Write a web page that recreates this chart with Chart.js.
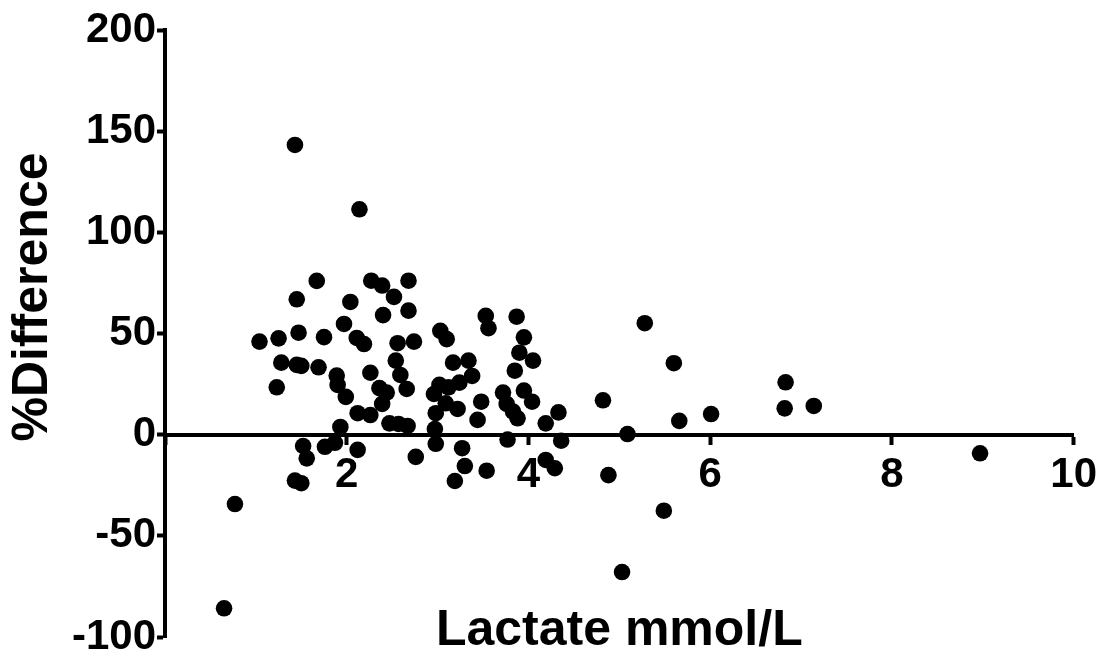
<!DOCTYPE html>
<html>
<head>
<meta charset="utf-8">
<title>Lactate % difference</title>
<script src="https://cdn.jsdelivr.net/npm/chart.js@4.4.1/dist/chart.umd.min.js"></script>
<style>
    html, body { margin: 0; padding: 0; background: #fff; }
</style>
</head>
<body>
<canvas id="scatterChart" width="1105" height="664"></canvas>
<script>
// lactate (mmol/L) vs % difference
const lactate = [
    0.65, 0.77, 1.04, 1.23, 1.25, 1.28, 1.43, 1.43, 1.45, 1.45,
    1.47, 1.50, 1.50, 1.52, 1.56, 1.67, 1.69, 1.75, 1.76, 1.87,
    1.89, 1.90, 1.93, 1.97, 1.99, 2.04, 2.11, 2.12, 2.12, 2.14,
    2.19, 2.26, 2.26, 2.27, 2.36, 2.39, 2.40, 2.44, 2.39, 2.47,
    2.52, 2.54, 2.56, 2.57, 2.59, 2.66, 2.67, 2.68, 2.68, 2.74,
    2.76, 2.96, 2.98, 2.97, 2.98, 3.02, 3.03, 3.10, 3.09, 3.12,
    3.17, 3.19, 3.22, 3.24, 3.27, 3.30, 3.34, 3.38, 3.44, 3.48,
    3.53, 3.54, 3.56, 3.72, 3.76, 3.77, 3.83, 3.85, 3.87, 3.88,
    3.90, 3.95, 3.95, 4.04, 4.05, 4.19, 4.19, 4.29, 4.33, 4.36,
    4.82, 4.88, 5.03, 5.09, 5.28, 5.49, 5.60, 5.66, 6.01, 6.82,
    6.83, 7.14, 8.97
];
const pctDiff = [
    -85.8, -34.3, 46.0, 23.4, 47.6, 35.6, -22.7, 143.2, 66.9, 34.5,
    50.4, 34.0, -24.0, -5.6, -11.7, 76.0, 33.3, 48.2, -6.0, -4.0,
    29.2, 24.6, 3.8, 54.7, 18.7, 65.6, 47.8, -7.5, 10.6, 111.4,
    44.8, 30.6, 9.7, 76.1, 23.0, 73.7, 59.1, 20.8, 15.2, 5.6,
    68.1, 36.6, 45.2, 5.3, 29.5, 22.6, 4.3, 76.1, 61.3, 46.0,
    -11.0, 20.1, 10.6, 2.8, -4.5, 24.6, 51.3, 47.2, 15.5, 23.4,
    35.6, -22.9, 12.7, 25.7, -6.7, -15.5, 36.6, 29.0, 7.3, 16.3,
    58.7, -17.8, 52.6, 20.8, 15.2, -2.4, 11.4, 31.6, 58.3, 8.1,
    40.5, 48.1, 21.8, 16.3, 36.6, 5.6, -12.5, -16.6, 11.0, -3.0,
    17.0, -20.0, -67.9, 0.3, 55.1, -37.6, 35.3, 6.8, 10.2, 13.0,
    25.9, 14.2, -9.2
];
const xTitle = 'Lactate mmol/L';
const yTitle = '%Difference';

const FONT = '"Liberation Sans", Arial, sans-serif';

// axis titles are drawn by hand, the originals sit off-centre
const axisTitles = {
    id: 'axisTitles',
    afterDraw(chart) {
        const ctx = chart.ctx;
        const area = chart.chartArea;
        ctx.save();
        ctx.fillStyle = '#000';
        ctx.font = 'bold 50px ' + FONT;
        ctx.textAlign = 'center';
        ctx.textBaseline = 'middle';
        ctx.fillText(xTitle, (area.left + area.right) / 2, 631);
        ctx.translate(33, 297);
        ctx.rotate(-Math.PI / 2);
        ctx.fillText(yTitle, 0, 0);
        ctx.restore();
    }
};

const ctx = document.getElementById('scatterChart').getContext('2d');
const chart = new Chart(ctx, {
    type: 'scatter',
    data: {
        datasets: [{
            label: yTitle,
            data: lactate.map((x, i) => ({ x: x, y: pctDiff[i] })),
            pointRadius: 8.3,
            pointHoverRadius: 8.3,
            pointBackgroundColor: '#000',
            pointBorderWidth: 0
        }]
    },
    options: {
        responsive: false,
        animation: false,
        layout: {
            padding: { left: 0, right: 30, top: 30, bottom: 27 }
        },
        plugins: {
            legend: { display: false },
            tooltip: { enabled: false }
        },
        scales: {
            x: {
                type: 'linear',
                position: { y: 0 },
                min: 0,
                max: 10,
                border: { display: true, color: '#000', width: 4 },
                grid: {
                    display: true,
                    drawOnChartArea: false,
                    drawTicks: true,
                    tickLength: 8,
                    tickWidth: 4,
                    color: '#000'
                },
                ticks: {
                    stepSize: 2,
                    color: '#000',
                    padding: 8,
                    maxRotation: 0,
                    font: { family: FONT, size: 42, weight: 'bold' },
                    callback: v => (v === 0 ? '' : v)
                }
            },
            y: {
                type: 'linear',
                min: -100,
                max: 200,
                afterFit: scale => { scale.width = 165; },
                border: { display: true, color: '#000', width: 4 },
                grid: {
                    display: true,
                    drawOnChartArea: false,
                    drawTicks: true,
                    tickLength: 8,
                    tickWidth: 4,
                    color: '#000'
                },
                ticks: {
                    stepSize: 50,
                    color: '#000',
                    padding: 1,
                    font: { family: FONT, size: 42, weight: 'bold' }
                }
            }
        }
    },
    plugins: [axisTitles]
});
</script>
</body>
</html>
